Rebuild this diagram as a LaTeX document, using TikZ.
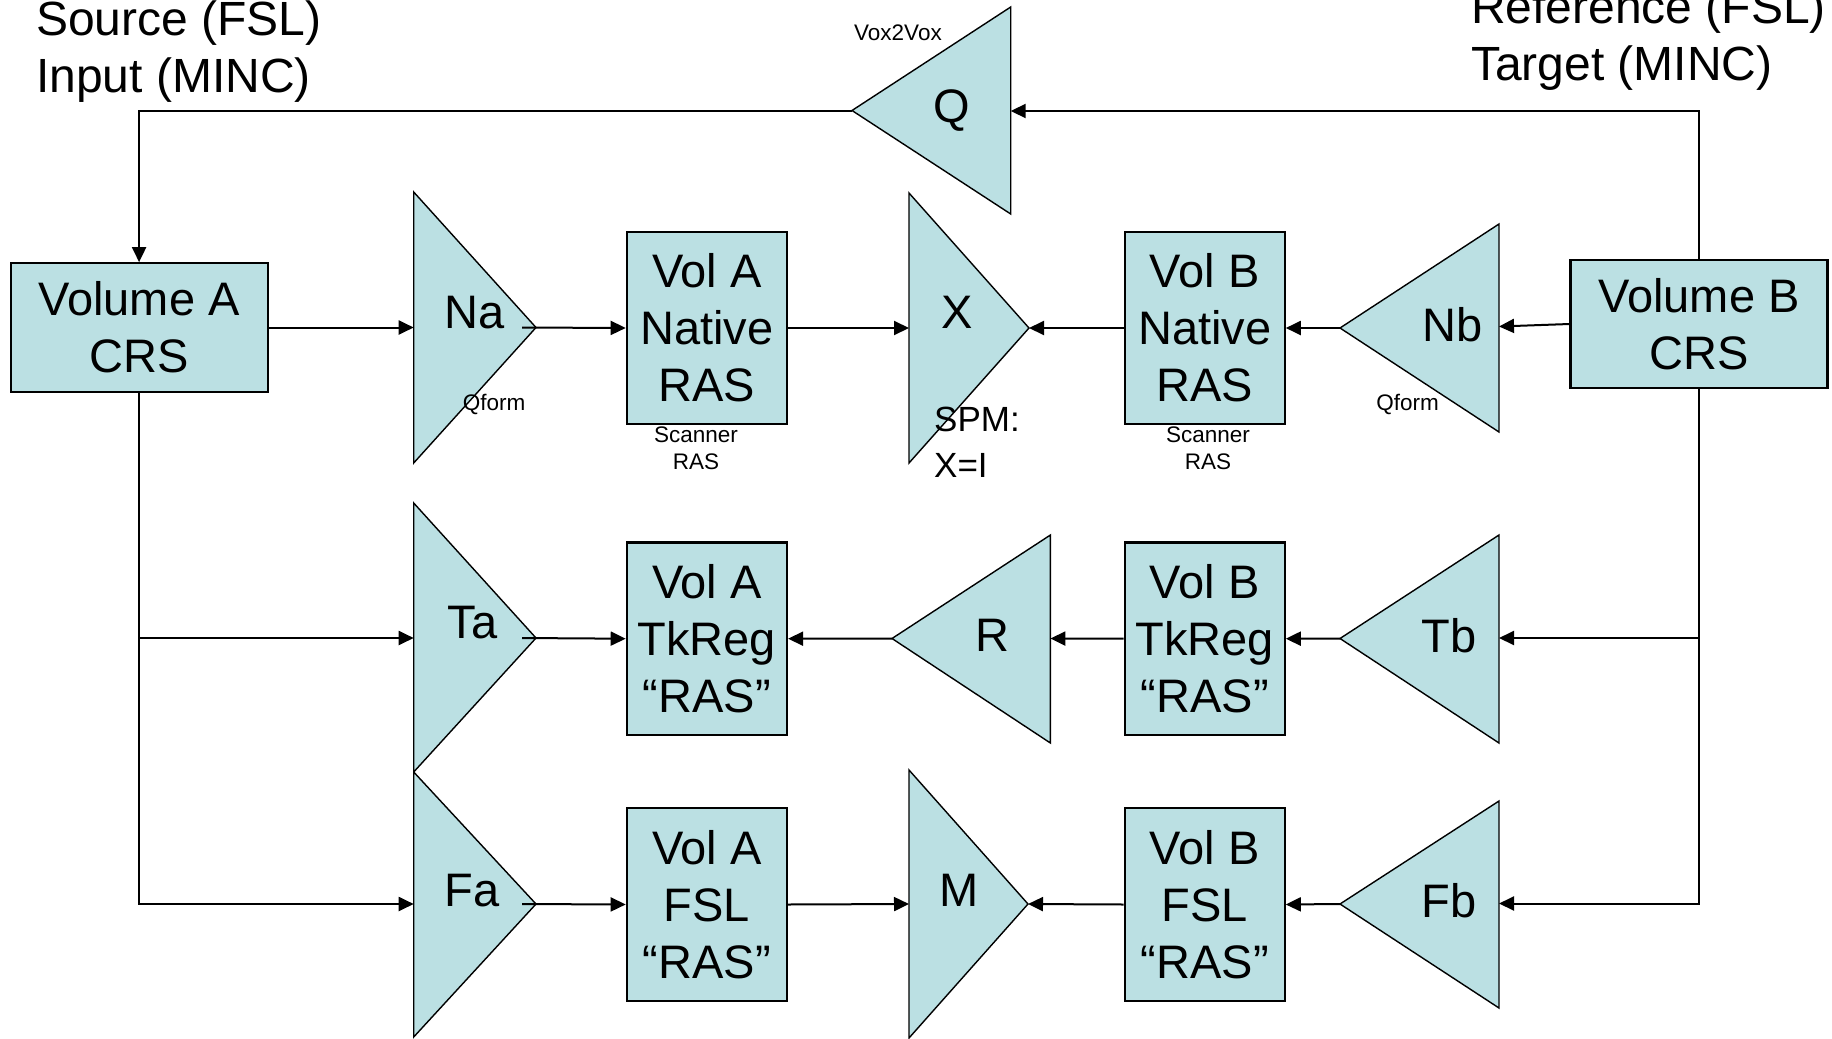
\documentclass[tikz,border=0pt]{standalone}
\usepackage{fontspec}
\setmainfont{Liberation Sans}
\usetikzlibrary{arrows.meta}
\definecolor{boxfill}{RGB}{187,224,227}
\newcommand\bigfnt{\fontsize{47}{57}\selectfont}
\newcommand\titlefnt{\fontsize{48}{57}\selectfont}
\newcommand\smallfnt{\fontsize{22.5}{27}\selectfont}
\newcommand\midfnt{\fontsize{35}{45.7}\selectfont}
\begin{document}
\begin{tikzpicture}[x=1pt,y=-1pt,
  box/.style={draw, line width=2.2pt, fill=boxfill, inner sep=0pt, align=center, font=\bigfnt},
  tri/.style={draw, line width=1.4pt, fill=boxfill, line join=miter},
  conn/.style={line width=2pt},
  arr/.style={conn, -{Triangle[length=15pt,width=14pt]}},
  lab/.style={inner sep=0pt, font=\bigfnt, anchor=base},
  small/.style={inner sep=0pt, font=\smallfnt, align=center},
  title/.style={inner sep=0pt, font=\titlefnt, anchor=base west}
]
\useasboundingbox (0,0) rectangle (1832,1039);

% ---------- triangles ----------
\draw[tri] (1010.7,7) -- (1010.7,214) -- (852,110.5) -- cycle;
\coordinate (qR) at (1010.7,111); \coordinate (qT) at (852,111);

\draw[tri] (413.7,192) -- (413.7,463) -- (536,327.5) -- cycle;
\coordinate (naL) at (413.7,327.5); \coordinate (naS) at (522,327.5);

\draw[tri] (909,193) -- (909,463) -- (1029,328) -- cycle;
\coordinate (xL) at (909,328); \coordinate (xT) at (1029,328);

\draw[tri] (1499,224) -- (1499,432) -- (1340,328) -- cycle;
\coordinate (nbR) at (1499,326.5); \coordinate (nbT) at (1340,328);

\draw[tri] (413.7,503) -- (413.7,772) -- (536,638) -- cycle;
\coordinate (taL) at (413.7,638); \coordinate (taS) at (522,638);

\draw[tri] (413.7,772) -- (413.7,1037) -- (536,904) -- cycle;
\coordinate (faL) at (413.7,904); \coordinate (faS) at (522,904);

\draw[tri] (1050.4,535) -- (1050.4,743) -- (892,638.5) -- cycle;
\coordinate (rR) at (1050.4,638.5); \coordinate (rT) at (892,638.5);

\draw[tri] (1499,535) -- (1499,743) -- (1340,638.5) -- cycle;
\coordinate (tbR) at (1499,638); \coordinate (tbT) at (1340,638.5);

\draw[tri] (909,770) -- (909,1038) -- (1028,904) -- cycle;
\coordinate (mL) at (909,904); \coordinate (mT) at (1028,904);

\draw[tri] (1499,801) -- (1499,1008) -- (1340,904) -- cycle;
\coordinate (fbR) at (1499,903.5); \coordinate (fbT) at (1340,904);

% ---------- boxes ----------
\node[box, minimum width=257pt, minimum height=128.5pt] (volA) at (139.1,327.5) {Volume A\\CRS};
\node[box, minimum width=257pt, minimum height=128pt] (volB) at (1699,324) {Volume B\\CRS};
\node[box, minimum width=160.2pt, minimum height=192.3pt] (volAN) at (706.9,328) {Vol A\\Native\\RAS};
\node[box, minimum width=160.2pt, minimum height=192.6pt] (volAT) at (706.9,638.7) {Vol A\\TkReg\\“RAS”};
\node[box, minimum width=160.2pt, minimum height=193pt] (volAF) at (706.9,904.5) {Vol A\\FSL\\“RAS”};
\node[box, minimum width=160pt, minimum height=192.3pt] (volBN) at (1204.7,328) {Vol B\\Native\\RAS};
\node[box, minimum width=160pt, minimum height=192.6pt] (volBT) at (1204.7,638.7) {Vol B\\TkReg\\“RAS”};
\node[box, minimum width=160pt, minimum height=193pt] (volBF) at (1204.7,904.5) {Vol B\\FSL\\“RAS”};

% ---------- connectors ----------
\coordinate (brTa) at (139.1,638);
\coordinate (brTb) at (1699,638);
\draw[arr] (qT) -| (volA.north);
\draw[arr] (volB.north) |- (qR);
\draw[arr] (volA.east) -- (naL);
\draw[arr] (naS) -- (volAN.west);
\draw[arr] (volAN.east) -- (xL);
\draw[arr] (volBN.west) -- (xT);
\draw[arr] (nbT) -- (volBN.east);
\draw[arr] (volB.west) -- (nbR);
\draw[arr] (volA.south) |- (faL);
\draw[arr] (brTa) -- (taL);
\draw[arr] (taS) -- (volAT.west);
\draw[arr] (rT) -- (volAT.east);
\draw[arr] (volBT.west) -- (rR);
\draw[arr] (tbT) -- (volBT.east);
\draw[arr] (volB.south) |- (fbR);
\draw[arr] (brTb) -- (tbR);
\draw[arr] (faS) -- (volAF.west);
\draw[arr] (volAF.east) -- (mL);
\draw[arr] (volBF.west) -- (mT);
\draw[arr] (fbT) -- (volBF.east);

% ---------- labels ----------
\node[lab] (lQ) at (952,122) {Q};
\node[lab] (lNa) at (475,328) {Na};
\node[lab] (lX) at (957,328) {X};
\node[lab] (lNb) at (1452.5,341.7) {Nb};
\node[lab] (lTa) at (472.5,638.6) {Ta};
\node[lab] (lFa) at (472,906) {Fa};
\node[lab] (lR) at (992,651.8) {R};
\node[lab] (lTb) at (1449,652) {Tb};
\node[lab] (lFb) at (1449,917.8) {Fb};
\node[lab] (lM) at (959.5,906) {M};

\node[small, anchor=base] (qfA) at (494,410) {Qform};
\node[small, anchor=base] (qfB) at (1407.7,410) {Qform};
\node[small] (scA) at (696,448.2) {Scanner\\RAS};
\node[small] (scB) at (1208,448.2) {Scanner\\RAS};
\node[small, anchor=base west] (v2v) at (854,40.7) {Vox2Vox};
\node[inner sep=0pt, font=\midfnt, align=left, anchor=west] (spm) at (934,442) {SPM:\\X=I};

\node[title] (src) at (36,35) {Source (FSL)};
\node[title] (inp) at (36,92) {Input (MINC)};
\node[title] (ref) at (1471,23) {Reference (FSL)};
\node[title] (tgt) at (1471,80) {Target (MINC)};
\end{tikzpicture}
\end{document}
